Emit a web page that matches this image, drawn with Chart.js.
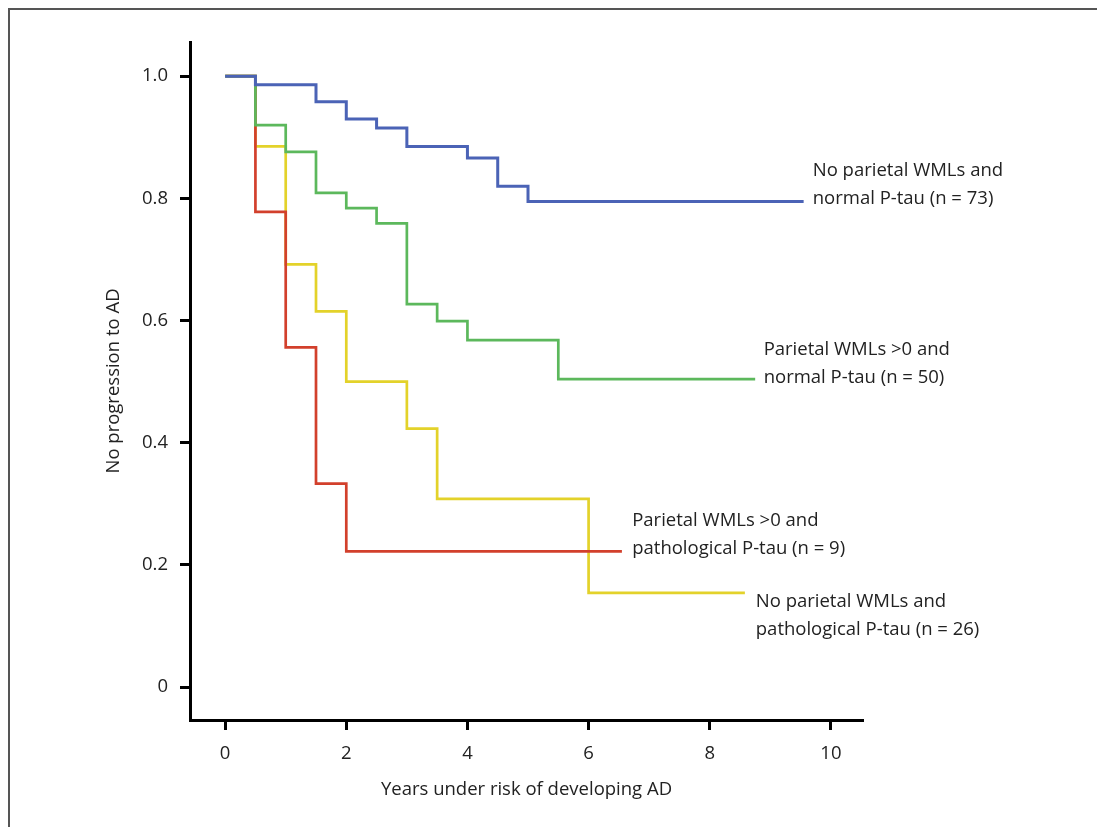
<!DOCTYPE html>
<html>
<head>
<meta charset="utf-8">
<script src="https://cdn.jsdelivr.net/npm/chart.js@4/dist/chart.umd.min.js"></script>
<style>
  body { margin: 0; background: #fff; }
  #frame { position: absolute; left: 8px; top: 8px; width: 1200px; height: 900px;
           border-left: 2px solid #555; border-top: 2px solid #555; }
  #km { position: absolute; left: 0; top: 0; }
</style>
</head>
<body>
<div id="frame"></div>
<canvas id="km" width="1097" height="827"></canvas>
<script>
// survival steps (time in years, proportion without progression)
var blueTimes   = [0, 0.5, 1.5, 2, 2.5, 3, 4, 4.5, 5, 9.55];
var blueSurv    = [1.0, 0.986, 0.958, 0.930, 0.915, 0.885, 0.866, 0.820, 0.795, 0.795];
var greenTimes  = [0, 0.5, 1, 1.5, 2, 2.5, 3, 3.5, 4, 5.5, 8.75];
var greenSurv   = [1.0, 0.920, 0.876, 0.809, 0.784, 0.759, 0.627, 0.599, 0.568, 0.504, 0.504];
var redTimes    = [0, 0.5, 1, 1.5, 2, 6.55];
var redSurv     = [1.0, 0.778, 0.556, 0.333, 0.222, 0.222];
var yellowTimes = [0, 0.5, 1, 1.5, 2, 3, 3.5, 6, 8.58];
var yellowSurv  = [1.0, 0.885, 0.692, 0.615, 0.500, 0.423, 0.308, 0.154, 0.154];

var xTickVals = [0, 2, 4, 6, 8, 10];
var xTickLabels = ['0', '2', '4', '6', '8', '10'];
var yTickVals = [0, 0.2, 0.4, 0.6, 0.8, 1.0];
var yTickLabels = ['0', '0.2', '0.4', '0.6', '0.8', '1.0'];

var groupLabels = [
  ['No parietal WMLs and', 'normal P-tau (n = 73)'],
  ['Parietal WMLs >0 and', 'normal P-tau (n = 50)'],
  ['Parietal WMLs >0 and', 'pathological P-tau (n = 9)'],
  ['No parietal WMLs and', 'pathological P-tau (n = 26)']
];
// where each group label starts (data units)
var labelAtX = [9.70, 8.89, 6.72, 8.76];
var labelAtY = [0.846, 0.553, 0.273, 0.139];

var FONT = "'Open Sans', 'Noto Sans', sans-serif";
var INK = '#222';
var FS = 18.5;

function pts(ts, ss) {
  return ts.map(function(t, i) { return { x: t, y: ss[i] }; });
}
function curve(ts, ss, col, w) {
  return { data: pts(ts, ss), borderColor: col, borderWidth: w, stepped: true,
           fill: false, pointRadius: 0, tension: 0 };
}

var groupLabelPlugin = {
  id: 'groupLabels',
  afterDatasetsDraw: function(chart) {
    var ctx = chart.ctx, xs = chart.scales.x, ys = chart.scales.y;
    ctx.save();
    ctx.fillStyle = INK;
    ctx.font = FS + 'px ' + FONT;
    ctx.textAlign = 'left';
    ctx.textBaseline = 'middle';
    groupLabels.forEach(function(lines, i) {
      var px = xs.getPixelForValue(labelAtX[i]);
      var py = ys.getPixelForValue(labelAtY[i]);
      lines.forEach(function(l, j) { ctx.fillText(l, px, py + j * 28); });
    });
    ctx.restore();
  }
};

new Chart(document.getElementById('km'), {
  type: 'line',
  data: {
    datasets: [
      curve(blueTimes, blueSurv, '#4b63b6', 3),
      curve(greenTimes, greenSurv, '#5cb85c', 2.7),
      curve(redTimes, redSurv, '#d2402c', 2.7),
      curve(yellowTimes, yellowSurv, '#e3d22a', 2.7)
    ]
  },
  options: {
    responsive: false,
    animation: false,
    layout: { padding: { left: 0, top: 42, right: 234, bottom: 0 } },
    plugins: { legend: { display: false }, tooltip: { enabled: false } },
    scales: {
      x: {
        type: 'linear', min: -0.58, max: 10.53,
        afterFit: function(s) { s.height = 107; },
        afterBuildTicks: function(s) { s.ticks = xTickVals.map(function(v) { return { value: v }; }); },
        border: { display: true, color: '#000', width: 3 },
        grid: { drawOnChartArea: false, drawTicks: true, tickLength: 10, tickWidth: 3, tickColor: '#000' },
        ticks: { color: INK, font: { family: FONT, size: FS }, padding: 13, maxRotation: 0,
                 callback: function(v) { return xTickLabels[xTickVals.indexOf(v)]; } },
        title: { display: true, text: 'Years under risk of developing AD', color: INK,
                 font: { family: FONT, size: FS }, padding: { top: 0, bottom: 26 } }
      },
      y: {
        type: 'linear', min: -0.054, max: 1.056,
        afterFit: function(s) { s.width = 190; },
        afterBuildTicks: function(s) { s.ticks = yTickVals.map(function(v) { return { value: v }; }); },
        border: { display: true, color: '#000', width: 3 },
        grid: { drawOnChartArea: false, drawTicks: true, tickLength: 10, tickWidth: 3, tickColor: '#000' },
        ticks: { color: INK, font: { family: FONT, size: FS }, padding: 12,
                 callback: function(v) { return yTickLabels[yTickVals.indexOf(v)]; } },
        title: { display: true, text: 'No progression to AD', color: INK,
                 font: { family: FONT, size: FS }, padding: { top: 103, bottom: 0 } }
      }
    }
  },
  plugins: [groupLabelPlugin]
});
</script>
</body>
</html>
